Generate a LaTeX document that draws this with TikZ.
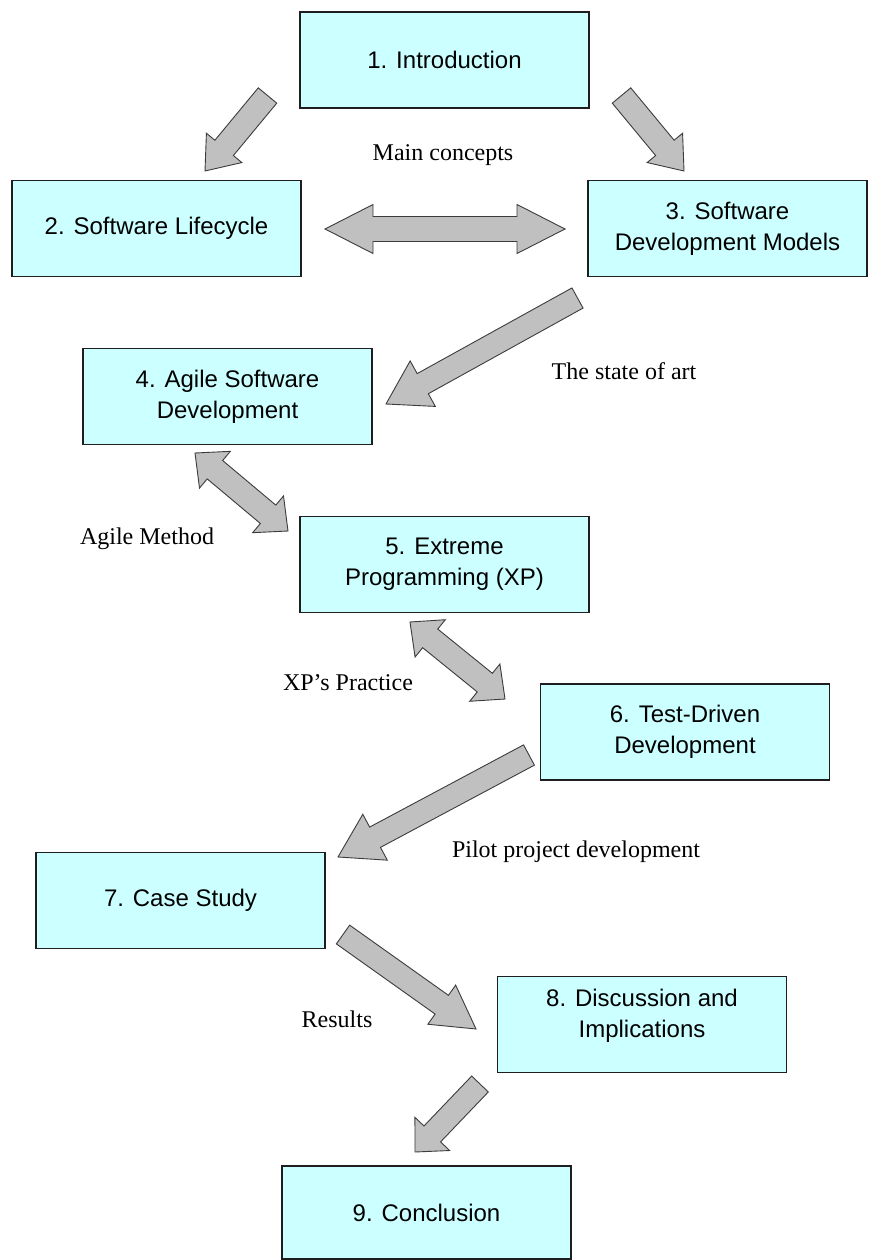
\documentclass[tikz,border=0pt]{standalone}
\usepackage{fontspec}
\setmainfont{Liberation Serif}
\newfontfamily\boxfont{Liberation Sans}
\usetikzlibrary{calc}
\definecolor{boxfill}{HTML}{CCFFFF}
\definecolor{arrowfill}{HTML}{C0C0C0}
\definecolor{edgecol}{HTML}{1E1E1E}
\definecolor{arrowedge}{HTML}{3C3C3C}
\tikzset{
  sbox/.style={draw=edgecol, line width=1.4pt, fill=boxfill, inner sep=0pt,
    minimum width=289pt, minimum height=96pt, align=center,
    font=\boxfont\fontsize{24}{31}\selectfont},
  lbl/.style={inner sep=0pt, font=\fontsize{24}{28}\selectfont},
  blockarrowstyle/.style={draw=arrowedge, line width=0.9pt, fill=arrowfill, line join=miter},
}
\newcommand{\blockarrow}[5]{%
  \coordinate (#1#2n) at ($(#2)!#5pt!(#1)$);
  \draw[blockarrowstyle] ($(#1)!#3pt!90:(#2)$) -- ($(#1#2n)!#3pt!90:(#2)$) -- ($(#1#2n)!#4pt!90:(#2)$) -- (#2) -- ($(#1#2n)!#4pt!-90:(#2)$) -- ($(#1#2n)!#3pt!-90:(#2)$) -- ($(#1)!#3pt!-90:(#2)$) -- cycle;
}
\newcommand{\doublearrow}[5]{%
  \coordinate (#1#2p) at ($(#1)!#5pt!(#2)$);
  \coordinate (#1#2q) at ($(#2)!#5pt!(#1)$);
  \draw[blockarrowstyle] (#1) -- ($(#1#2p)!#4pt!90:(#2)$) -- ($(#1#2p)!#3pt!90:(#2)$) -- ($(#1#2q)!#3pt!90:(#2)$) -- ($(#1#2q)!#4pt!90:(#2)$) -- (#2) -- ($(#1#2q)!#4pt!-90:(#2)$) -- ($(#1#2q)!#3pt!-90:(#2)$) -- ($(#1#2p)!#3pt!-90:(#2)$) -- ($(#1#2p)!#4pt!-90:(#2)$) -- cycle;
}
\begin{document}
\begin{tikzpicture}[x=1pt, y=-1pt]
\useasboundingbox[fill=white] (0,0) rectangle (868,1260);

% boxes
\node[sbox] (b1) at (444.5,60) {1. Introduction};
\node[sbox] (b2) at (156.5,228.5) {2. Software Lifecycle};
\node[sbox, minimum width=279pt] (b3) at (727.5,228.5) {3. Software\\Development Models};
\node[sbox] (b4) at (227.5,396.5) {4. Agile Software\\Development};
\node[sbox] (b5) at (444.5,564.5) {5. Extreme\\Programming (XP)};
\node[sbox] (b6) at (685,732) {6. Test-Driven\\Development};
\node[sbox] (b7) at (180.5,900.5) {7. Case Study};
\node[sbox, text depth=22pt] (b8) at (642,1024.5) {8. Discussion and\\Implications};
\node[sbox, minimum height=93pt] (b9) at (426.5,1212.5) {9. Conclusion};

% labels
\node[lbl] (l1) at (443,155) {Main concepts};
\node[lbl] (l2) at (624,371) {The state of art};
\node[lbl] (l3) at (147,539) {Agile Method};
\node[lbl] (l4) at (348,683) {XP’s Practice};
\node[lbl] (l5) at (576,852) {Pilot project development};
\node[lbl] (l6) at (337,1019) {Results};

% arrow anchor points
\coordinate (a12t) at (267.5,95.5);
\coordinate (a12h) at (205,171);
\coordinate (a13t) at (621.5,95.5);
\coordinate (a13h) at (684,171);
\coordinate (a23l) at (325,229);
\coordinate (a23r) at (565,229);
\coordinate (a34t) at (577.5,298);
\coordinate (a34h) at (386,404);
\coordinate (a45a) at (195,453);
\coordinate (a45b) at (288,531);
\coordinate (a56a) at (410,622);
\coordinate (a56b) at (505,699);
\coordinate (a67t) at (529,755);
\coordinate (a67h) at (338,857);
\coordinate (a78t) at (343,934.5);
\coordinate (a78h) at (476,1029);
\coordinate (a89t) at (480,1084);
\coordinate (a89h) at (415,1152);

\blockarrow{a12t}{a12h}{12}{23}{30}
\blockarrow{a13t}{a13h}{12}{23}{30}
\doublearrow{a23l}{a23r}{12.5}{24.5}{48}
\blockarrow{a34t}{a34h}{11.5}{26}{42}
\doublearrow{a45a}{a45b}{12}{24}{26}
\doublearrow{a56a}{a56b}{12}{24}{26}
\blockarrow{a67t}{a67h}{11.5}{26}{42}
\blockarrow{a78t}{a78h}{11.5}{24}{42}
\blockarrow{a89t}{a89h}{11.5}{24}{25}
\end{tikzpicture}
\end{document}
